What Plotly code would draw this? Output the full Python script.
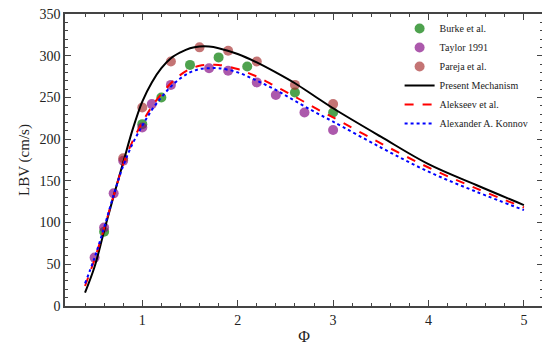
import plotly.graph_objects as go

burke_x = [0.6, 1.0, 1.2, 1.5, 1.8, 2.1, 2.6, 3.0]
burke_y = [89, 218, 250, 289, 298, 287, 256, 232]

taylor_x = [0.5, 0.6, 0.7, 0.8, 1.0, 1.1, 1.3, 1.7, 1.9, 2.2, 2.4, 2.7, 3.0]
taylor_y = [58, 94, 135, 174, 214, 242, 265, 285, 282, 268, 253, 232, 211]

pareja_x = [0.8, 1.0, 1.3, 1.6, 1.9, 2.2, 2.6, 3.0]
pareja_y = [177, 238, 293, 310, 306, 293, 265, 242]

curve_x = [0.4, 0.5, 0.6, 0.7, 0.8, 0.9, 1.0, 1.1, 1.2, 1.3, 1.4, 1.5, 1.6, 1.7, 1.8,
           2.0, 2.2, 2.4, 2.6, 2.8, 3.0, 3.5, 4.0, 4.5, 5.0]
present_y = [16, 47, 90, 132, 172, 212, 245, 268, 285, 297, 304, 309, 311, 311, 309,
             302, 292, 280, 267, 252, 237, 203, 170, 145, 121]
alekseev_y = [24, 56, 93, 132, 170, 198, 220, 239, 254, 267, 277, 284, 288, 289, 289,
              284, 275, 263, 251, 238, 226, 195, 166, 141, 118]
konnov_y = [27, 58, 94, 133, 168, 195, 216, 235, 250, 263, 273, 280, 284, 285, 285,
            280, 270, 259, 246, 233, 221, 190, 161, 137, 115]

x_ticks = [1, 2, 3, 4, 5]
y_ticks = [0, 50, 100, 150, 200, 250, 300, 350]

serif = "Liberation Serif"

fig = go.Figure()
fig.add_trace(go.Scatter(x=burke_x, y=burke_y, mode="markers", name="Burke et al.",
                         marker=dict(size=10, color="rgba(34,139,34,0.8)", line=dict(width=0))))
fig.add_trace(go.Scatter(x=taylor_x, y=taylor_y, mode="markers", name="Taylor 1991",
                         marker=dict(size=10, color="rgba(128,0,128,0.65)", line=dict(width=0))))
fig.add_trace(go.Scatter(x=pareja_x, y=pareja_y, mode="markers", name="Pareja et al.",
                         marker=dict(size=10, color="rgba(165,42,42,0.65)", line=dict(width=0))))
fig.add_trace(go.Scatter(x=curve_x, y=present_y, mode="lines", name="Present Mechanism",
                         line=dict(color="black", width=2, shape="spline")))
fig.add_trace(go.Scatter(x=curve_x, y=alekseev_y, mode="lines", name="Alekseev et al.",
                         line=dict(color="red", width=2, dash="dash", shape="spline")))
fig.add_trace(go.Scatter(x=curve_x, y=konnov_y, mode="lines", name="Alexander A. Konnov",
                         line=dict(color="blue", width=2, dash="dot", shape="spline")))

axis_common = dict(showgrid=False, zeroline=False, showline=True, linecolor="#444",
                   linewidth=1.5, mirror="ticks", ticks="inside", tickcolor="#444",
                   ticklen=6, tickwidth=1.2, automargin=False, ticklabeloverflow="allow",
                   tickfont=dict(family=serif, size=14, color="#222"))

fig.update_layout(
    width=550, height=356,
    margin=dict(l=57, r=15, t=6, b=58, autoexpand=False),
    paper_bgcolor="white", plot_bgcolor="white",
    font=dict(family=serif, color="#222"),
    xaxis=dict(range=[0.19, 5.2], tickvals=x_ticks,
               minor=dict(dtick=0.2, tick0=0, ticks="inside", ticklen=3, tickcolor="#444"),
               title=dict(text="Φ", font=dict(family=serif, size=16), standoff=4),
               **axis_common),
    yaxis=dict(range=[0, 350], tickvals=y_ticks,
               minor=dict(dtick=10, tick0=0, ticks="inside", ticklen=3, tickcolor="#444"),
               title=dict(text="LBV (cm/s)", font=dict(family=serif, size=15), standoff=6),
               **axis_common),
    legend=dict(x=0.70, y=1.0, xanchor="left", yanchor="top", bgcolor="rgba(0,0,0,0)",
                font=dict(family=serif, size=10, color="#222"), tracegroupgap=0,
                itemwidth=30),
    showlegend=True,
)

fig.write_html("out.html")
